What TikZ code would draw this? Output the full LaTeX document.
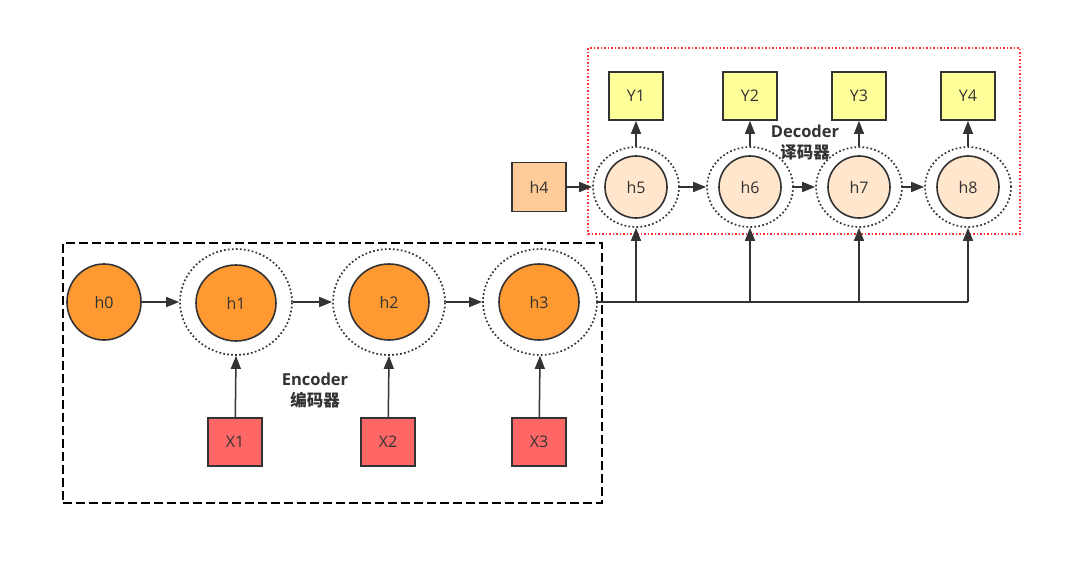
\documentclass[tikz,border=0pt]{standalone}
\usepackage{fontspec}
\setmainfont{Open Sans}
\newfontfamily\cjk{Noto Sans CJK SC}
\usepackage{tikz}
\usetikzlibrary{shapes.geometric, arrows.meta, positioning}
\definecolor{linegray}{HTML}{333333}
\definecolor{encorange}{HTML}{FF9A33}
\definecolor{decpeach}{HTML}{FFE6CC}
\definecolor{startpeach}{HTML}{FFCC99}
\definecolor{inred}{HTML}{FF6666}
\definecolor{outyellow}{HTML}{FFFF99}
\definecolor{framered}{HTML}{FF3333}

\begin{document}
\begin{tikzpicture}[x=1pt,y=-1pt,
    every node/.style={text=linegray,font=\fontsize{16}{19}\selectfont},
    encstate/.style={ellipse,draw=linegray,line width=1.6pt,fill=encorange,minimum width=80pt,minimum height=76pt},
    decstate/.style={circle,draw=linegray,line width=1.6pt,fill=decpeach,minimum size=62pt},
    ring/.style={ellipse,draw=linegray,line width=1.7pt,dash pattern=on 1.7pt off 2.3pt,minimum width=#1},
    sqbox/.style={draw=linegray,line width=1.8pt,minimum width=54pt,minimum height=48pt},
    arr/.style={draw=linegray,line width=1.5pt,-{Triangle[length=13pt,width=10pt]}},
    bus/.style={draw=linegray,line width=1.5pt},
    tag/.style={align=center,font=\fontsize{16.5}{21}\selectfont\bfseries}
  ]
    \useasboundingbox (0,0) rectangle (1080,563);

    % encoder
    \node[draw=black,line width=1.6pt,dash pattern=on 9pt off 4pt,minimum width=539pt,minimum height=260pt] (enc) at (332.5,373) {};
    \node[encstate,minimum width=74pt] (h0) at (104,302) {h0};
    \node[encstate] (h1) at (236,303) {h1};
    \node[encstate] (h2) at (389,302) {h2};
    \node[encstate] (h3) at (539,302) {h3};
    \node[ring=112pt,minimum height=106pt] (h1o) at (236,302) {};
    \node[ring=112pt,minimum height=106pt] (h2o) at (389,302) {};
    \node[ring=114pt,minimum height=106pt] (h3o) at (540,302) {};
    \node[sqbox,fill=inred] (x1) at (235,442) {X1};
    \node[sqbox,fill=inred] (x2) at (388,442) {X2};
    \node[sqbox,fill=inred] (x3) at (539,442) {X3};
    \node[tag] (enctag) at (315,391) {Encoder\\{\cjk 编码器}};

    \draw[arr] (h0.east) -- (h1o.west);
    \draw[arr] (h1o.east) -- (h2o.west);
    \draw[arr] (h2o.east) -- (h3o.west);
    \draw[arr] (x1) -- (h1o.south);
    \draw[arr] (x2) -- (h2o.south);
    \draw[arr] (x3) -- (h3o.south);

    % decoder
    \node[draw=framered,line width=1.3pt,dash pattern=on 1.5pt off 2pt,minimum width=432pt,minimum height=186pt] (dec) at (804,141) {};
    \node[sqbox,fill=startpeach,minimum height=49pt] (h4) at (539,187) {h4};
    \node[decstate] (h5) at (636,187) {h5};
    \node[decstate] (h6) at (750,187) {h6};
    \node[decstate] (h7) at (859,187) {h7};
    \node[decstate] (h8) at (968,187) {h8};
    \foreach \n in {5,...,8}
      \node[ring=86pt,minimum height=80pt] (h\n o) at (h\n) {};
    \node[sqbox,fill=outyellow] (y1) at (636,96) {Y1};
    \node[sqbox,fill=outyellow] (y2) at (750,96) {Y2};
    \node[sqbox,fill=outyellow] (y3) at (859,96) {Y3};
    \node[sqbox,fill=outyellow] (y4) at (968,96) {Y4};
    \node[tag] (dectag) at (805,143) {Decoder\\{\cjk 译码器}};

    \draw[arr] (h4) -- (h5o.west);
    \draw[arr] (h5o.east) -- (h6o.west);
    \draw[arr] (h6o.east) -- (h7o.west);
    \draw[arr] (h7o.east) -- (h8o.west);
    \draw[arr] (h5o) -- (y1);
    \draw[arr] (h6o) -- (y2);
    \draw[arr] (h7o) -- (y3);
    \draw[arr] (h8o) -- (y4);

    % context bus
    \draw[bus] (h3o.east) -- (h8o.south |- h3o.east);
    \foreach \n in {5,...,8}
      \draw[arr] (h\n o.south |- h3o.east) -- (h\n o.south);
\end{tikzpicture}
\end{document}
